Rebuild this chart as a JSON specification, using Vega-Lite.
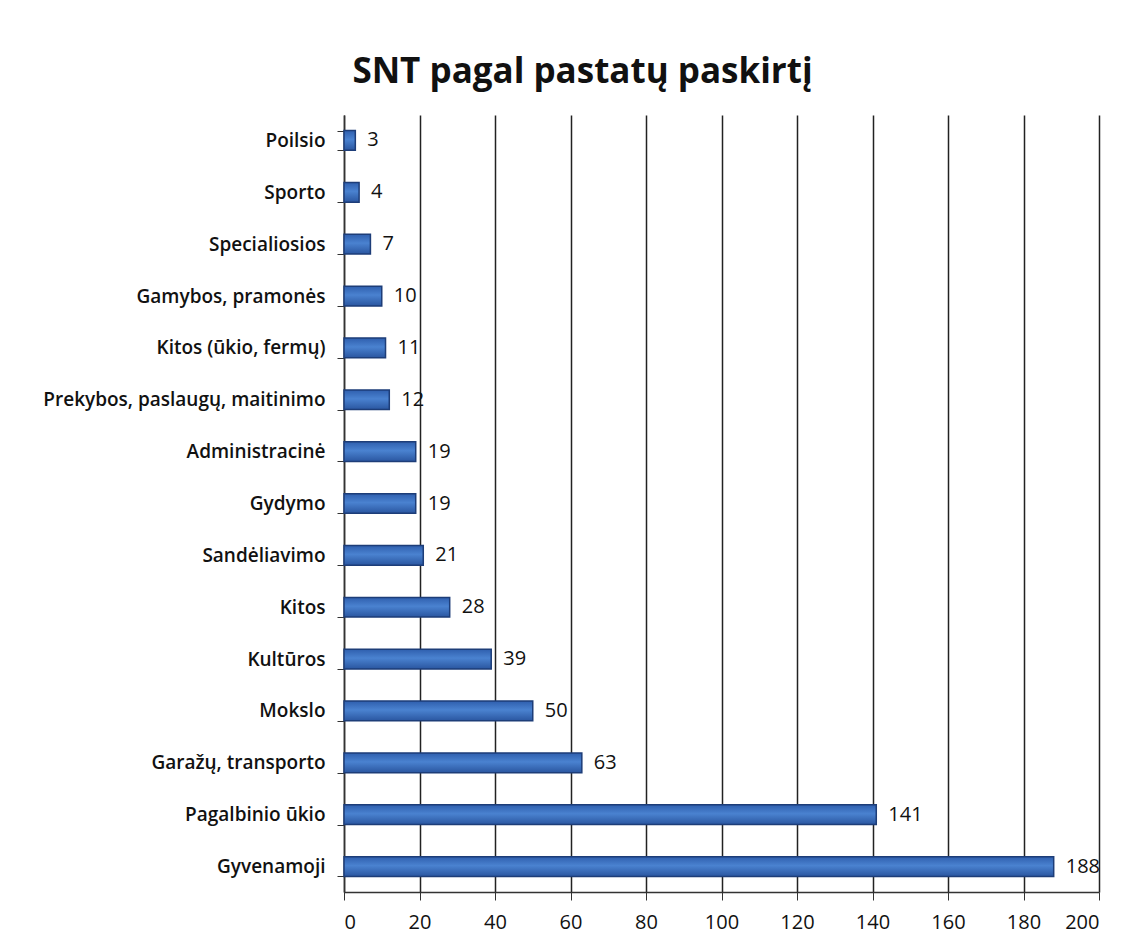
{
  "$schema": "https://vega.github.io/schema/vega-lite/v6.json",
  "autosize": "none",
  "width": 755,
  "height": 777,
  "padding": {"left": 344, "top": 115, "right": 42, "bottom": 60},
  "background": "white",
  "title": {
    "text": "SNT pagal pastatų paskirtį",
    "font": "Open Sans",
    "fontSize": 35,
    "fontWeight": "bold",
    "color": "#111111",
    "anchor": "middle",
    "dx": -139,
    "offset": 16
  },
  "data": {
    "values": [
      {"cat": "Poilsio", "v": 3},
      {"cat": "Sporto", "v": 4},
      {"cat": "Specialiosios", "v": 7},
      {"cat": "Gamybos, pramonės", "v": 10},
      {"cat": "Kitos (ūkio, fermų)", "v": 11},
      {"cat": "Prekybos, paslaugų, maitinimo", "v": 12},
      {"cat": "Administracinė", "v": 19},
      {"cat": "Gydymo", "v": 19},
      {"cat": "Sandėliavimo", "v": 21},
      {"cat": "Kitos", "v": 28},
      {"cat": "Kultūros", "v": 39},
      {"cat": "Mokslo", "v": 50},
      {"cat": "Garažų, transporto", "v": 63},
      {"cat": "Pagalbinio ūkio", "v": 141},
      {"cat": "Gyvenamoji", "v": 188}
    ]
  },
  "encoding": {
    "y": {
      "field": "cat",
      "type": "nominal",
      "sort": null,
      "scale": {"paddingInner": 0.62, "paddingOuter": 0.3},
      "axis": {
        "title": null,
        "labelFont": "Open Sans",
        "labelFontSize": 19,
        "labelFontWeight": 600,
        "labelColor": "#111111",
        "labelPadding": 12,
        "labelLimit": 400,
        "tickBand": "extent",
        "tickSize": 7,
        "tickColor": "#333333",
        "domainColor": "#333333",
        "domainWidth": 1.5
      }
    },
    "x": {
      "field": "v",
      "type": "quantitative",
      "scale": {"domain": [0, 200], "nice": false},
      "axis": {
        "title": null,
        "values": [0, 20, 40, 60, 80, 100, 120, 140, 160, 180, 200],
        "labelFont": "Open Sans",
        "labelFontSize": 20,
        "labelColor": "#111111",
        "labelPadding": 12,
        "tickSize": 8,
        "tickColor": "#333333",
        "domainColor": "#333333",
        "domainWidth": 1.5,
        "grid": true,
        "gridColor": "#222222",
        "gridWidth": 1.5
      }
    }
  },
  "layer": [
    {
      "mark": {
        "type": "bar",
        "stroke": "#1d3d78",
        "strokeWidth": 1.5,
        "color": {
          "gradient": "linear",
          "x1": 0, "y1": 0, "x2": 0, "y2": 1,
          "stops": [
            {"offset": 0, "color": "#2f5fae"},
            {"offset": 0.45, "color": "#4a82d0"},
            {"offset": 1, "color": "#2a56a0"}
          ]
        }
      }
    },
    {
      "mark": {
        "type": "text",
        "align": "left",
        "baseline": "middle",
        "dx": 12,
        "font": "Open Sans",
        "fontSize": 20,
        "color": "#111111"
      },
      "encoding": {"text": {"field": "v", "type": "quantitative"}}
    }
  ],
  "config": {"view": {"stroke": null}}
}
